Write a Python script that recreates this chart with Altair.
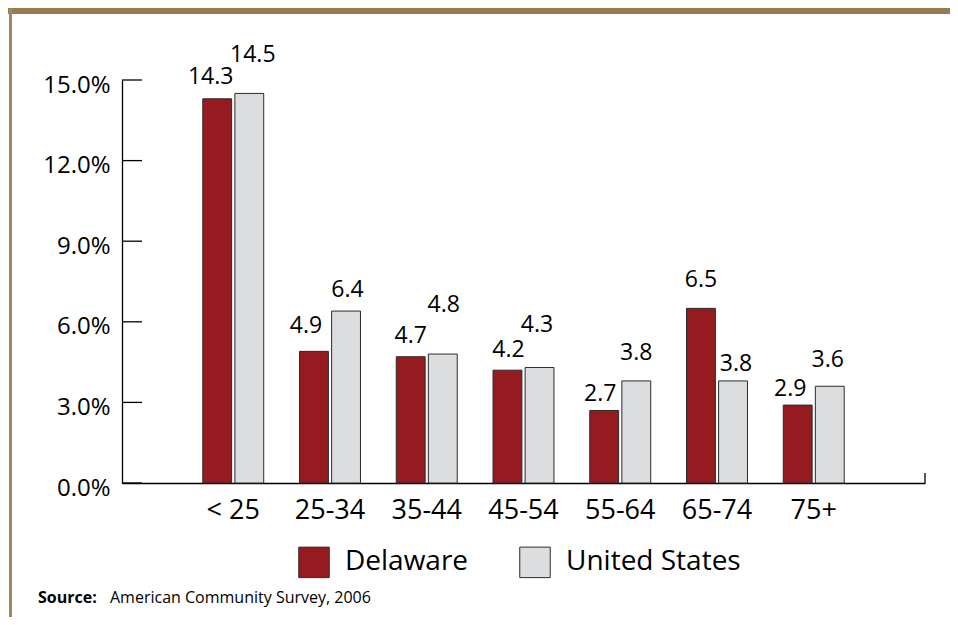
import altair as alt
import pandas as pd

# ---- data ----
categories = ["< 25", "25-34", "35-44", "45-54", "55-64", "65-74", "75+"]
delaware = [14.3, 4.9, 4.7, 4.2, 2.7, 6.5, 2.9]
united_states = [14.5, 6.4, 4.8, 4.3, 3.8, 3.8, 3.6]
series = ["Delaware", "United States"]
y_ticks = [0, 3, 6, 9, 12, 15]
source_label = "Source:"
source_text = "American Community Survey, 2006"

# ---- layout / style (not data) ----
W, H = 803, 403
PL, PT, PR, PB = 114, 72, 25, 134
RED = "#961b20"
GRAY = "#dcdddf"
EDGE = "#2b2b2b"
BAND = "#957b4f"
BORDER = "#a0875f"
FONT = "Open Sans"
# hand placement of the value labels (pixel nudges), in series order per category
de_dx = [-6.5, -8, 0, 1, -4, 0, -7.5]
de_dy = [-15, -18, -14, -13.5, -9.5, -21, -9]
us_dx = [3.5, 1.5, 1, -2.5, 0, 3, -2]
us_dy = [-31.7, -14, -42.3, -35, -21, -10, -19]

rows = []
for i, c in enumerate(categories):
    rows.append({"age": c, "series": series[0], "value": delaware[i]})
    rows.append({"age": c, "series": series[1], "value": united_states[i]})
df = pd.DataFrame(rows)

y_scale = alt.Scale(domain=[0, 15], nice=False, zero=True)
x_axis = alt.Axis(title=None, ticks=False, grid=False, domainColor="black", domainWidth=1.3,
                  labelFont=FONT, labelFontSize=27, labelColor="black", labelAngle=0,
                  labelPadding=35, labelBaseline="alphabetic")
y_axis = alt.Axis(title=None, values=y_ticks, ticks=False, grid=False, domainColor="black",
                  domainWidth=1.3, labelFont=FONT, labelFontSize=24, labelColor="black",
                  labelPadding=12, labelOffset=5,
                  labelExpr="format(datum.value, '.1f') + '%'")

x_enc = alt.X("age:N", sort=categories,
              scale=alt.Scale(domain=categories, paddingInner=0.37, paddingOuter=0.835),
              axis=x_axis)
xo_enc = alt.XOffset("series:N", sort=series,
                     scale=alt.Scale(domain=series, paddingInner=0.1))
y_enc = alt.Y("value:Q", scale=y_scale, axis=y_axis)

one = alt.Data(values=[{}])

band = alt.Chart(one).mark_rect(color=BAND).encode(
    x=alt.value(-PL), x2=alt.value(W + PR), y=alt.value(-PT), y2=alt.value(-PT + 6))
border = alt.Chart(one).mark_rect(color=BORDER).encode(
    x=alt.value(-PL + 1), x2=alt.value(-PL + 4), y=alt.value(-PT), y2=alt.value(H + PB))

bars = alt.Chart(df).mark_bar(stroke=EDGE, strokeWidth=1).encode(
    x=x_enc, xOffset=xo_enc, y=y_enc,
    color=alt.Color("series:N", sort=series,
                    scale=alt.Scale(domain=series, range=[RED, GRAY]),
                    legend=alt.Legend(title=None, orient="none", legendX=176, legendY=466,
                                      direction="horizontal", symbolType="square",
                                      symbolSize=930, symbolStrokeColor=EDGE,
                                      symbolStrokeWidth=1, symbolOpacity=1,
                                      labelFont=FONT, labelFontSize=28, labelColor="black",
                                      labelLimit=0, labelOffset=15, columnPadding=48,
                                      padding=0)))

tick_rules = alt.Chart(pd.DataFrame({"value": y_ticks})).mark_rule(
    color="black", strokeWidth=1.3).encode(y=y_enc, x=alt.value(0), x2=alt.value(20))

end_tick = alt.Chart(one).mark_rule(color="black", strokeWidth=1.3).encode(
    x=alt.value(W), y=alt.value(H - 10), y2=alt.value(H))

labels = []
for i, c in enumerate(categories):
    for s, dxs, dys in ((series[0], de_dx, de_dy), (series[1], us_dx, us_dy)):
        labels.append(
            alt.Chart(df).transform_filter(
                (alt.datum.age == c) & (alt.datum.series == s)
            ).mark_text(dx=dxs[i], dy=dys[i], align="center", baseline="alphabetic",
                        font=FONT, fontSize=23, color="black").encode(
                x=x_enc, xOffset=xo_enc, y=y_enc,
                text=alt.Text("value:Q", format=".1f")))

src1 = alt.Chart(one).mark_text(align="left", baseline="alphabetic", font=FONT,
                                fontSize=16, fontWeight="bold", color="black").encode(
    x=alt.value(-84), y=alt.value(523), text=alt.value(source_label))
src2 = alt.Chart(one).mark_text(align="left", baseline="alphabetic", font=FONT,
                                fontSize=16, color="black").encode(
    x=alt.value(-12), y=alt.value(523), text=alt.value(source_text))

chart = alt.layer(band, border, bars, tick_rules, end_tick, *labels, src1, src2).properties(
    width=W, height=H,
    autosize=alt.AutoSizeParams(type="none"),
    padding={"left": PL, "top": PT, "right": PR, "bottom": PB},
    background="white",
).configure_view(stroke=None)

chart.save("out.html", embed_options={"renderer": "svg", "actions": False})
